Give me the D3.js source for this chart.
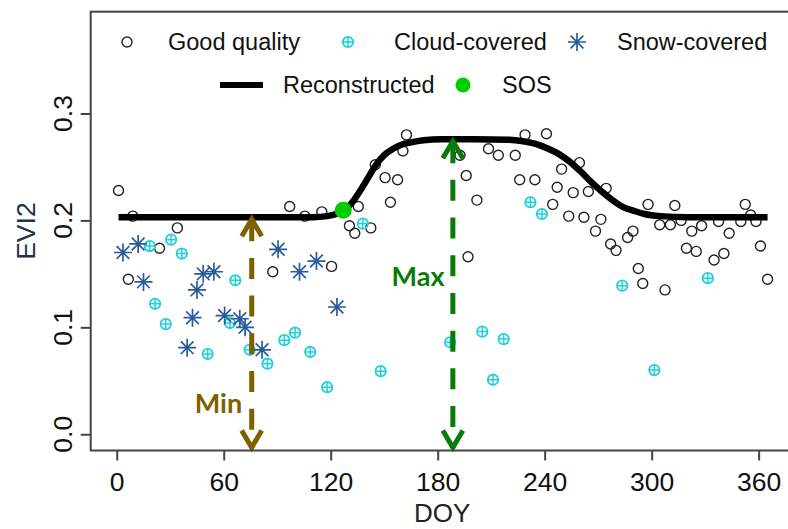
<!DOCTYPE html>
<html>
<head>
<meta charset="utf-8">
<script src="https://cdn.jsdelivr.net/npm/d3@7"></script>
<style>
  html, body { margin: 0; padding: 0; background: #fff; }
  svg { display: block; }
</style>
</head>
<body>
<svg id="chart" width="788" height="529"></svg>
<script>
// ---- Observations: good quality (DOY, EVI2) ----
const goodDoy = [1, 6.5, 9, 24, 34, 87.5, 97, 105.5, 115, 120.5, 130.5, 133.5, 135.5, 142.5, 145,
  150.5, 153.5, 157.5, 160.5, 162.5, 192.5, 196, 197, 202, 208.5, 214, 223.5, 226, 229, 234.5,
  241, 244.5, 247, 249.5, 253.5, 256, 259.5, 262, 264.5, 268.5, 271.5, 274.5, 277, 280, 286.5,
  289.5, 292.5, 295, 298, 304.5, 307.5, 310.5, 313, 316.5, 319.5, 322.5, 325, 328, 335, 337.5,
  340.5, 343.5, 350, 352.5, 355.5, 358.5, 361, 365];
const goodEvi = [0.228, 0.145, 0.204, 0.174, 0.193, 0.152, 0.213, 0.204, 0.208, 0.157, 0.195, 0.188, 0.213, 0.193, 0.252,
  0.240, 0.217, 0.238, 0.265, 0.280, 0.261, 0.242, 0.166, 0.219, 0.267, 0.261, 0.261, 0.238, 0.280, 0.238,
  0.281, 0.215, 0.231, 0.248, 0.204, 0.226, 0.254, 0.203, 0.227, 0.190, 0.201, 0.230, 0.178, 0.172, 0.184,
  0.190, 0.155, 0.141, 0.215, 0.196, 0.135, 0.196, 0.214, 0.200, 0.174, 0.190, 0.171, 0.195, 0.163, 0.199,
  0.169, 0.188, 0.199, 0.215, 0.205, 0.199, 0.176, 0.145];

// ---- Observations: cloud-covered ----
const cloudDoy = [18.5, 21.5, 27.5, 30.5, 36.5, 51, 63.5, 66.5, 74.5, 84.5, 94, 100, 108.5, 118,
  138, 148, 187, 205, 211, 217, 232, 238.5, 283.5, 301.5, 331.5];
const cloudEvi = [0.176, 0.122, 0.103, 0.182, 0.169, 0.075, 0.104, 0.144, 0.079, 0.066, 0.088, 0.095, 0.077, 0.044,
  0.197, 0.059, 0.086, 0.096, 0.051, 0.089, 0.217, 0.206, 0.139, 0.060, 0.146];

// ---- Observations: snow-covered ----
const snowDoy = [3.5, 12, 15, 39.5, 42.5, 45, 48.5, 54.5, 60.5, 69, 72, 81.5, 90.5, 102.5, 112, 123.5];
const snowEvi = [0.170, 0.178, 0.1425, 0.081, 0.109, 0.135, 0.150, 0.152, 0.111, 0.108, 0.100, 0.079, 0.173, 0.152, 0.162, 0.119];

// ---- Reconstructed seasonal curve ----
const curveDoy = [1, 40, 80, 110, 118, 123, 127, 130, 133, 137, 141, 145, 150, 155, 160, 165, 172, 182,
  200, 220, 228, 235, 242, 248, 254, 260, 266, 272, 278, 284, 290, 296, 305, 320, 365];
const curveEvi = [0.203, 0.203, 0.203, 0.203, 0.204, 0.206, 0.2095, 0.213, 0.219, 0.229, 0.240, 0.251, 0.261, 0.267, 0.271, 0.273, 0.275, 0.276,
  0.276, 0.2755, 0.274, 0.2715, 0.267, 0.262, 0.255, 0.246, 0.236, 0.227, 0.219, 0.2125, 0.209, 0.206, 0.204, 0.203, 0.203];

// ---- Start of season ----
const sosDoy = [127];
const sosEvi = [0.2095];

// ---- Min / Max annotations ----
const minMaxLabels = ["Min", "Max"];
const minMaxDoy = [75.7, 188.5];
const minMaxEvi = [0.203, 0.276];

// ---- Axes ----
const xTicks = [0, 60, 120, 180, 240, 300, 360];
const yTicks = [0.0, 0.1, 0.2, 0.3];
const yTickLabels = ["0.0", "0.1", "0.2", "0.3"];
const xTitle = "DOY";
const yTitle = "EVI2";

// ---- Legend ----
const legendRow1 = ["Good quality", "Cloud-covered", "Snow-covered"];
const legendRow2 = ["Reconstructed", "SOS"];

const COL = {
  good: "#222",
  cloud: "#1fd0da",
  snow: "#2a5c9c",
  sos: "#00cd00",
  min: "#7f6000",
  max: "#087c0a",
  axis: "#444"
};
const FONT = "'Liberation Sans', Arial, Helvetica, sans-serif";

const svg = d3.select("#chart");
const x = d3.scaleLinear().domain([-14.6, 379.6]).range([90.7, 793.6]);
const y = d3.scaleLinear().domain([-0.0152, 0.3952]).range([450.5, 11.7]);
const [x0, x1] = x.range();
const [yb, yt] = y.range();

// symbol painters
function drawCircle(g, cx, cy) {
  g.append("circle").attr("cx", cx).attr("cy", cy).attr("r", 5)
    .attr("fill", "none").attr("stroke", COL.good).attr("stroke-width", 1.4);
}
function drawCloud(g, cx, cy) {
  const r = 5.2;
  g.append("circle").attr("cx", cx).attr("cy", cy).attr("r", r)
    .attr("fill", "none").attr("stroke", COL.cloud).attr("stroke-width", 1.8);
  g.append("path")
    .attr("d", `M${cx - r},${cy}L${cx + r},${cy}M${cx},${cy - r}L${cx},${cy + r}`)
    .attr("stroke", COL.cloud).attr("stroke-width", 1.5);
}
function drawStar(g, cx, cy) {
  const s = 9, a = s / Math.SQRT2;
  g.append("path")
    .attr("d", `M${cx - s},${cy}L${cx + s},${cy}M${cx},${cy - s}L${cx},${cy + s}` +
               `M${cx - a},${cy - a}L${cx + a},${cy + a}M${cx - a},${cy + a}L${cx + a},${cy - a}`)
    .attr("stroke", COL.snow).attr("stroke-width", 1.7).attr("fill", "none");
}

// clip to plotting region
svg.append("clipPath").attr("id", "plotclip")
  .append("rect").attr("x", x0).attr("y", yt).attr("width", x1 - x0).attr("height", yb - yt);

const plot = svg.append("g").attr("clip-path", "url(#plotclip)");

// points
const gGood = plot.append("g");
goodDoy.forEach((d, i) => drawCircle(gGood, x(d), y(goodEvi[i])));
const gCloud = plot.append("g");
cloudDoy.forEach((d, i) => drawCloud(gCloud, x(d), y(cloudEvi[i])));
const gSnow = plot.append("g");
snowDoy.forEach((d, i) => drawStar(gSnow, x(d), y(snowEvi[i])));

// reconstructed curve
const curveData = curveDoy.map((d, i) => [d, curveEvi[i]]);
plot.append("path")
  .datum(curveData)
  .attr("d", d3.line().x(d => x(d[0])).y(d => y(d[1])).curve(d3.curveMonotoneX))
  .attr("fill", "none").attr("stroke", "#000").attr("stroke-width", 6.5)
  .attr("stroke-linejoin", "round");

// SOS marker
plot.append("circle").attr("cx", x(sosDoy[0])).attr("cy", y(sosEvi[0])).attr("r", 8.5)
  .attr("fill", COL.sos);

// Min / Max double arrows from the axis floor up to the curve
const arrowColors = [COL.min, COL.max];
const labelPos = [[218.5, 413], [418, 285.5]];
minMaxDoy.forEach((d, i) => {
  const ax = x(d), top = y(minMaxEvi[i]), bot = yb - 3;
  const c = arrowColors[i];
  const g = svg.append("g");
  g.append("line").attr("x1", ax).attr("x2", ax).attr("y1", top + 3).attr("y2", bot)
    .attr("stroke", c).attr("stroke-width", 5).attr("stroke-dasharray", "21,16.7");
  const hw = 10, hh = 17;
  g.append("path").attr("d", `M${ax - hw},${top + hh + 2}L${ax},${top + 2}L${ax + hw},${top + hh + 2}`)
    .attr("fill", "none").attr("stroke", c).attr("stroke-width", 5).attr("stroke-linejoin", "miter");
  g.append("path").attr("d", `M${ax - hw},${bot - hh}L${ax},${bot}L${ax + hw},${bot - hh}`)
    .attr("fill", "none").attr("stroke", c).attr("stroke-width", 5).attr("stroke-linejoin", "miter");
  svg.append("text").attr("x", labelPos[i][0]).attr("y", labelPos[i][1])
    .attr("text-anchor", "middle").attr("font-family", "Lato, 'Open Sans', sans-serif")
    .attr("font-weight", "bold").attr("font-size", 27).attr("fill", c)
    .text(minMaxLabels[i]);
});

// plot frame
svg.append("rect").attr("x", x0).attr("y", yt).attr("width", x1 - x0).attr("height", yb - yt)
  .attr("fill", "none").attr("stroke", COL.axis).attr("stroke-width", 2);

// x axis
const xAxis = svg.append("g").attr("transform", `translate(0,${yb})`)
  .call(d3.axisBottom(x).tickValues(xTicks).tickSize(10).tickFormat(d3.format("d")));
xAxis.select(".domain").remove();
xAxis.selectAll(".tick line").attr("stroke", COL.axis).attr("stroke-width", 2);
xAxis.selectAll(".tick text").attr("y", 40).attr("dy", 0)
  .attr("font-family", FONT).attr("font-size", 26.5).attr("fill", "#111");

// y axis
const yAxis = svg.append("g").attr("transform", `translate(${x0},0)`)
  .call(d3.axisLeft(y).tickValues(yTicks).tickSize(10).tickFormat(""));
yAxis.select(".domain").remove();
yAxis.selectAll(".tick line").attr("stroke", COL.axis).attr("stroke-width", 2);
svg.append("g").selectAll("text").data(yTicks).join("text")
  .attr("transform", (d) => `translate(72,${y(d)}) rotate(-90)`)
  .attr("text-anchor", "middle").attr("font-family", FONT).attr("font-size", 26.5).attr("fill", "#111")
  .text((d, i) => yTickLabels[i]);

// axis titles
svg.append("text").attr("x", (x0 + x1) / 2).attr("y", 522).attr("text-anchor", "middle")
  .attr("font-family", FONT).attr("font-size", 26).attr("fill", "#222").text(xTitle);
svg.append("text").attr("transform", `translate(34.5,${(yb + yt) / 2}) rotate(-90)`)
  .attr("text-anchor", "middle").attr("font-family", FONT).attr("font-size", 26.5).attr("fill", "#26304a")
  .text(yTitle);

// legend
const leg = svg.append("g");
const row1Y = 42, row2Y = 85;
const legFont = 23.5, legBase = legFont * 0.358;
drawCircle(leg, 127, row1Y);
drawCloud(leg, 348, row1Y);
drawStar(leg, 577, row1Y);
[168, 394, 617].forEach((tx, i) => {
  leg.append("text").attr("x", tx).attr("y", row1Y + legBase)
    .attr("font-family", FONT).attr("font-size", legFont).attr("fill", "#111").text(legendRow1[i]);
});
leg.append("line").attr("x1", 220).attr("x2", 263).attr("y1", row2Y).attr("y2", row2Y)
  .attr("stroke", "#000").attr("stroke-width", 6);
leg.append("circle").attr("cx", 463).attr("cy", row2Y).attr("r", 7.5).attr("fill", COL.sos);
[283, 502].forEach((tx, i) => {
  leg.append("text").attr("x", tx).attr("y", row2Y + legBase)
    .attr("font-family", FONT).attr("font-size", legFont).attr("fill", "#111").text(legendRow2[i]);
});
</script>
</body>
</html>
